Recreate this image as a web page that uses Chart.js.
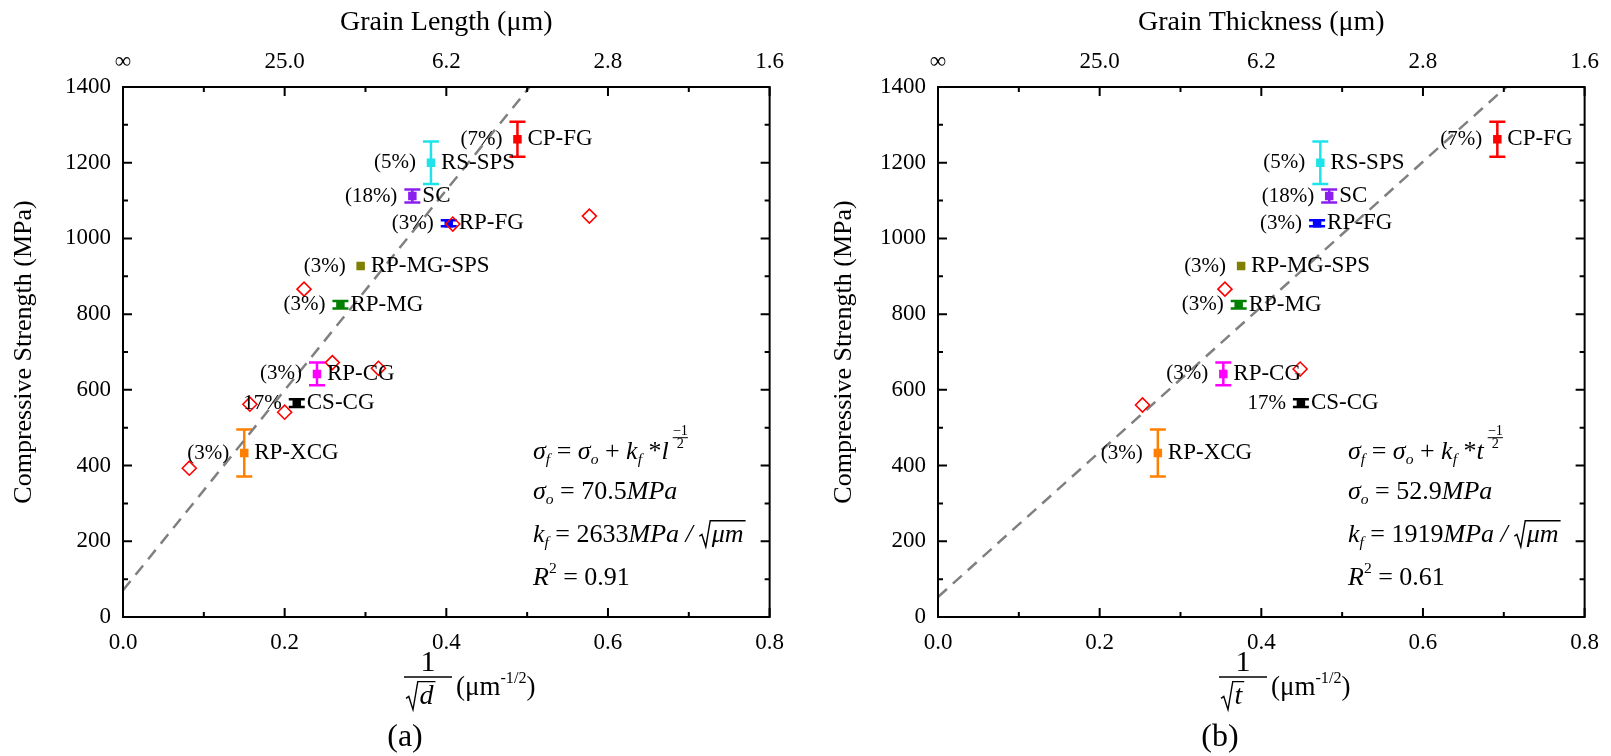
<!DOCTYPE html>
<html lang="en">
<head>
<meta charset="UTF-8">
<title>Compressive strength vs grain size</title>
<script src="https://cdn.jsdelivr.net/npm/chart.js@4.4.0/dist/chart.umd.min.js"></script>
<style>
    body {
        margin: 0;
        background: #fff;
        width: 1611px;
        height: 756px;
        position: relative;
        overflow: hidden;
    }
    .panel {
        position: absolute;
        top: 0;
        width: 796px;
        height: 756px;
    }
    #panelA { left: 0; }
    #panelB { left: 815px; }
</style>
</head>
<body>
<div class="panel" id="panelA"><canvas id="chartA"></canvas></div>
<div class="panel" id="panelB"><canvas id="chartB"></canvas></div>

<script>
    // samples (same order in both panels)
    var samples = ["CP-FG", "RS-SPS", "SC", "RP-FG", "RP-MG-SPS", "RP-MG", "RP-CG", "CS-CG", "RP-XCG"];
    var porosity = ["(7%)", "(5%)", "(18%)", "(3%)", "(3%)", "(3%)", "(3%)", "17%", "(3%)"];
    var sampleColors = ["#ff0000", "#1ee3ea", "#8b1ff0", "#0000ff", "#808000", "#008000", "#ff00ff", "#000000", "#ff8000"];
    var strength = [1262, 1200, 1112, 1040, 927, 825, 642, 565, 433];
    var strengthErr = [46, 56, 17, 8, 0, 10, 30, 10, 62];

    // x positions, 1/sqrt(size)
    var lengthX = [0.488, 0.381, 0.358, 0.403, 0.294, 0.269, 0.240, 0.215, 0.150];
    var thickX = [0.692, 0.473, 0.484, 0.469, 0.375, 0.372, 0.353, 0.449, 0.272];

    // open red diamonds
    var refLengthX = [0.577, 0.408, 0.224, 0.259, 0.316, 0.157, 0.200, 0.082];
    var refLengthY = [1059, 1038, 866, 672, 657, 562, 541, 393];
    var refThickX = [0.355, 0.448, 0.253];
    var refThickY = [866, 655, 560];

    // dashed fit lines (end points)
    var fitLengthX = [0, 0.503];
    var fitLengthY = [70.5, 1400];
    var fitThickX = [0, 0.703];
    var fitThickY = [52.9, 1400];

    // top axis labels (grain size in um)
    var topLabels = ["\u221e", "25.0", "6.2", "2.8", "1.6"];

    var serif = '"Liberation Serif", "Times New Roman", serif';

    function pts(xs, ys) {
        return xs.map(function (x, i) { return {x: x, y: ys[i]}; });
    }

    // draws a run of text pieces: [text, kind]
    function rich(ctx, x, y, parts, size) {
        var cx = x;
        parts.forEach(function (p) {
            var t = p[0], k = p[1];
            if (k === 'frac') {
                // stacked exponent -1 over 2
                var fs = size * 0.55;
                ctx.font = fs + 'px ' + serif;
                var w = ctx.measureText(t[0]).width;
                var ex = cx + 4;
                ctx.fillText(t[0], ex, y - size * 0.78);
                ctx.beginPath();
                ctx.lineWidth = 1;
                ctx.moveTo(ex, y - size * 0.55);
                ctx.lineTo(ex + w, y - size * 0.55);
                ctx.stroke();
                ctx.fillText(t[1], ex + w / 2 - ctx.measureText(t[1]).width / 2, y - size * 0.3);
                cx = ex + w;
                return;
            }
            if (k === 'rad') {
                ctx.font = 'italic ' + size + 'px ' + serif;
                var tw = ctx.measureText(t).width;
                ctx.beginPath();
                ctx.lineWidth = 1.4;
                ctx.moveTo(cx, y + size * 0.05);
                ctx.lineTo(cx + size * 0.1, y - size * 0.02);
                ctx.lineTo(cx + size * 0.25, y + size * 0.45);
                ctx.lineTo(cx + size * 0.42, y - size * 0.55);
                ctx.lineTo(cx + size * 0.48 + tw + 2, y - size * 0.55);
                ctx.stroke();
                ctx.fillText(t, cx + size * 0.48, y);
                cx += size * 0.48 + tw + 2;
                return;
            }
            var fsz = size, dy = 0, st = '';
            if (k === 'i') st = 'italic ';
            if (k === 'sub') { st = 'italic '; fsz = size * 0.6; dy = size * 0.32; }
            if (k === 'sup') { fsz = size * 0.6; dy = -size * 0.35; }
            ctx.font = st + fsz + 'px ' + serif;
            ctx.fillText(t, cx, y + dy);
            cx += ctx.measureText(t).width;
        });
        return cx;
    }

    var panelPlugin = {
        id: 'panelPlugin',
        beforeDatasetsDraw: function (chart, args, opts) {
            var ctx = chart.ctx, xs = chart.scales.x, ys = chart.scales.y;
            ctx.save();
            ctx.lineWidth = 2.5;
            opts.xs.forEach(function (xv, i) {
                var e = strengthErr[i];
                if (!e) return;
                var px = xs.getPixelForValue(xv);
                var top = ys.getPixelForValue(strength[i] + e);
                var bot = ys.getPixelForValue(strength[i] - e);
                ctx.strokeStyle = sampleColors[i];
                ctx.beginPath();
                ctx.moveTo(px, top); ctx.lineTo(px, bot);
                ctx.moveTo(px - 8, top); ctx.lineTo(px + 8, top);
                ctx.moveTo(px - 8, bot); ctx.lineTo(px + 8, bot);
                ctx.stroke();
            });
            ctx.restore();
        },
        afterDatasetsDraw: function (chart, args, opts) {
            var ctx = chart.ctx, xs = chart.scales.x, ys = chart.scales.y;
            ctx.save();
            ctx.fillStyle = '#000';
            ctx.textBaseline = 'middle';
            opts.xs.forEach(function (xv, i) {
                var px = xs.getPixelForValue(xv);
                var py = ys.getPixelForValue(strength[i]);
                ctx.font = '21px ' + serif;
                ctx.textAlign = 'right';
                ctx.fillText(porosity[i], px - 15, py);
                ctx.font = '23px ' + serif;
                ctx.textAlign = 'left';
                ctx.fillText(samples[i], px + 10, py);
            });
            ctx.restore();
        },
        afterDraw: function (chart, args, opts) {
            var ctx = chart.ctx, a = chart.chartArea;
            var xs = chart.scales.x, ys = chart.scales.y;
            ctx.save();
            ctx.strokeStyle = '#000';
            ctx.lineWidth = 2;
            ctx.strokeRect(a.left, a.top, a.right - a.left, a.bottom - a.top);
            // inward ticks
            ctx.beginPath();
            xs.ticks.forEach(function (t) {
                var px = xs.getPixelForValue(t.value);
                var len = Math.round(t.value * 10) % 2 === 0 ? 9 : 5;
                ctx.moveTo(px, a.bottom); ctx.lineTo(px, a.bottom - len);
                ctx.moveTo(px, a.top); ctx.lineTo(px, a.top + len);
            });
            ys.ticks.forEach(function (t) {
                var py = ys.getPixelForValue(t.value);
                var len = Math.round(t.value / 100) % 2 === 0 ? 9 : 5;
                ctx.moveTo(a.left, py); ctx.lineTo(a.left + len, py);
                ctx.moveTo(a.right, py); ctx.lineTo(a.right - len, py);
            });
            ctx.stroke();

            // fit equation
            ctx.fillStyle = '#000';
            ctx.strokeStyle = '#000';
            ctx.textBaseline = 'middle';
            ctx.textAlign = 'left';
            var ex = a.left + 410, es = 26;
            rich(ctx, ex, a.top + 365, [['\u03c3', 'i'], ['f', 'sub'], [' = ', 'n'], ['\u03c3', 'i'], ['o', 'sub'],
                [' + ', 'n'], ['k', 'i'], ['f', 'sub'], [' *', 'n'], [opts.sym, 'i'], [['\u22121', '2'], 'frac']], es);
            rich(ctx, ex, a.top + 405, [['\u03c3', 'i'], ['o', 'sub'], [' = ', 'n'], [opts.sigma0, 'n'], ['MPa', 'i']], es);
            rich(ctx, ex, a.top + 448, [['k', 'i'], ['f', 'sub'], [' = ', 'n'], [opts.kf, 'n'], ['MPa / ', 'i'], ['\u03bcm', 'rad']], es);
            rich(ctx, ex, a.top + 491, [['R', 'i'], ['2', 'sup'], [' = ', 'n'], [opts.r2, 'n']], es);

            // bottom axis title: 1 / sqrt(d) (um^-1/2)
            var cx = a.left + 305;
            ctx.textAlign = 'center';
            ctx.font = '30px ' + serif;
            ctx.fillText('1', cx, a.bottom + 46);
            ctx.beginPath();
            ctx.lineWidth = 1.4;
            ctx.moveTo(cx - 24, a.bottom + 60);
            ctx.lineTo(cx + 24, a.bottom + 60);
            ctx.stroke();
            ctx.textAlign = 'left';
            rich(ctx, cx - 22, a.bottom + 80, [[opts.axisSym, 'rad']], 28);
            rich(ctx, cx + 28, a.bottom + 71, [['(\u03bcm', 'n'], ['-1/2', 'sup'], [')', 'n']], 27);

            // panel letter
            ctx.textAlign = 'center';
            ctx.font = '32px ' + serif;
            ctx.fillText(opts.letter, a.left + 282, a.bottom + 121);
            ctx.restore();
        }
    };

    function makeChart(id, cfg) {
        var tickFont = {family: serif, size: 23};
        return new Chart(document.getElementById(id), {
            type: 'scatter',
            data: {
                datasets: [
                    {
                        data: pts(cfg.refX, cfg.refY),
                        pointStyle: 'rectRot',
                        pointRadius: 7,
                        borderColor: '#ff0000',
                        backgroundColor: 'rgba(255,255,255,0)',
                        borderWidth: 1.6
                    },
                    {
                        data: pts(cfg.xs, strength),
                        pointStyle: 'rect',
                        pointRadius: 6,
                        backgroundColor: sampleColors,
                        borderColor: sampleColors,
                        borderWidth: 0
                    },
                    {
                        data: pts(cfg.fitX, cfg.fitY),
                        showLine: true,
                        borderColor: '#808080',
                        borderWidth: 2.5,
                        borderDash: [12, 8],
                        pointRadius: 0
                    }
                ]
            },
            options: {
                responsive: true,
                maintainAspectRatio: false,
                animation: false,
                layout: {padding: {right: 20}},
                plugins: {
                    legend: {display: false},
                    tooltip: {enabled: false},
                    panelPlugin: {
                        xs: cfg.xs, sym: cfg.sym, axisSym: cfg.axisSym, sigma0: cfg.sigma0,
                        kf: cfg.kf, r2: cfg.r2, letter: cfg.letter
                    }
                },
                scales: {
                    x: {
                        type: 'linear', position: 'bottom', min: 0, max: 0.8,
                        grid: {display: false, drawTicks: false}, border: {display: false},
                        ticks: {
                            stepSize: 0.1, autoSkip: false, maxRotation: 0, padding: 12, color: '#000', font: tickFont,
                            callback: function (v) {
                                var k = Math.round(v * 10);
                                return k % 2 === 0 ? (k / 10).toFixed(1) : '';
                            }
                        },
                        afterFit: function (s) { s.height = 139; }
                    },
                    xTop: {
                        type: 'linear', position: 'top', min: 0, max: 0.8,
                        grid: {display: false, drawTicks: false}, border: {display: false},
                        ticks: {
                            stepSize: 0.1, autoSkip: false, maxRotation: 0, padding: 11, color: '#000', font: tickFont,
                            callback: function (v) {
                                var k = Math.round(v * 10);
                                return k % 2 === 0 ? topLabels[k / 2] : '';
                            }
                        },
                        title: {display: true, text: cfg.topTitle, color: '#000', font: {family: serif, size: 28}, padding: {top: 6, bottom: 0}},
                        afterFit: function (s) { s.height = 87; }
                    },
                    y: {
                        min: 0, max: 1400,
                        grid: {display: false, drawTicks: false}, border: {display: false},
                        ticks: {
                            stepSize: 100, autoSkip: false, padding: 12, color: '#000', font: tickFont,
                            callback: function (v) { return Math.round(v / 100) % 2 === 0 ? v : ''; }
                        },
                        title: {display: true, text: 'Compressive Strength (MPa)', color: '#000', font: {family: serif, size: 26}, padding: {top: cfg.yTitlePad, bottom: 0}},
                        afterFit: function (s) { s.width = 123; }
                    }
                }
            },
            plugins: [panelPlugin]
        });
    }

    makeChart('chartA', {
        xs: lengthX, refX: refLengthX, refY: refLengthY, fitX: fitLengthX, fitY: fitLengthY,
        sym: 'l', axisSym: 'd', sigma0: '70.5', kf: '2633', r2: '0.91', letter: '(a)',
        topTitle: 'Grain Length (\u03bcm)', yTitlePad: 9
    });
    makeChart('chartB', {
        xs: thickX, refX: refThickX, refY: refThickY, fitX: fitThickX, fitY: fitThickY,
        sym: 't', axisSym: 't', sigma0: '52.9', kf: '1919', r2: '0.61', letter: '(b)',
        topTitle: 'Grain Thickness (\u03bcm)', yTitlePad: 14
    });
</script>
</body>
</html>
